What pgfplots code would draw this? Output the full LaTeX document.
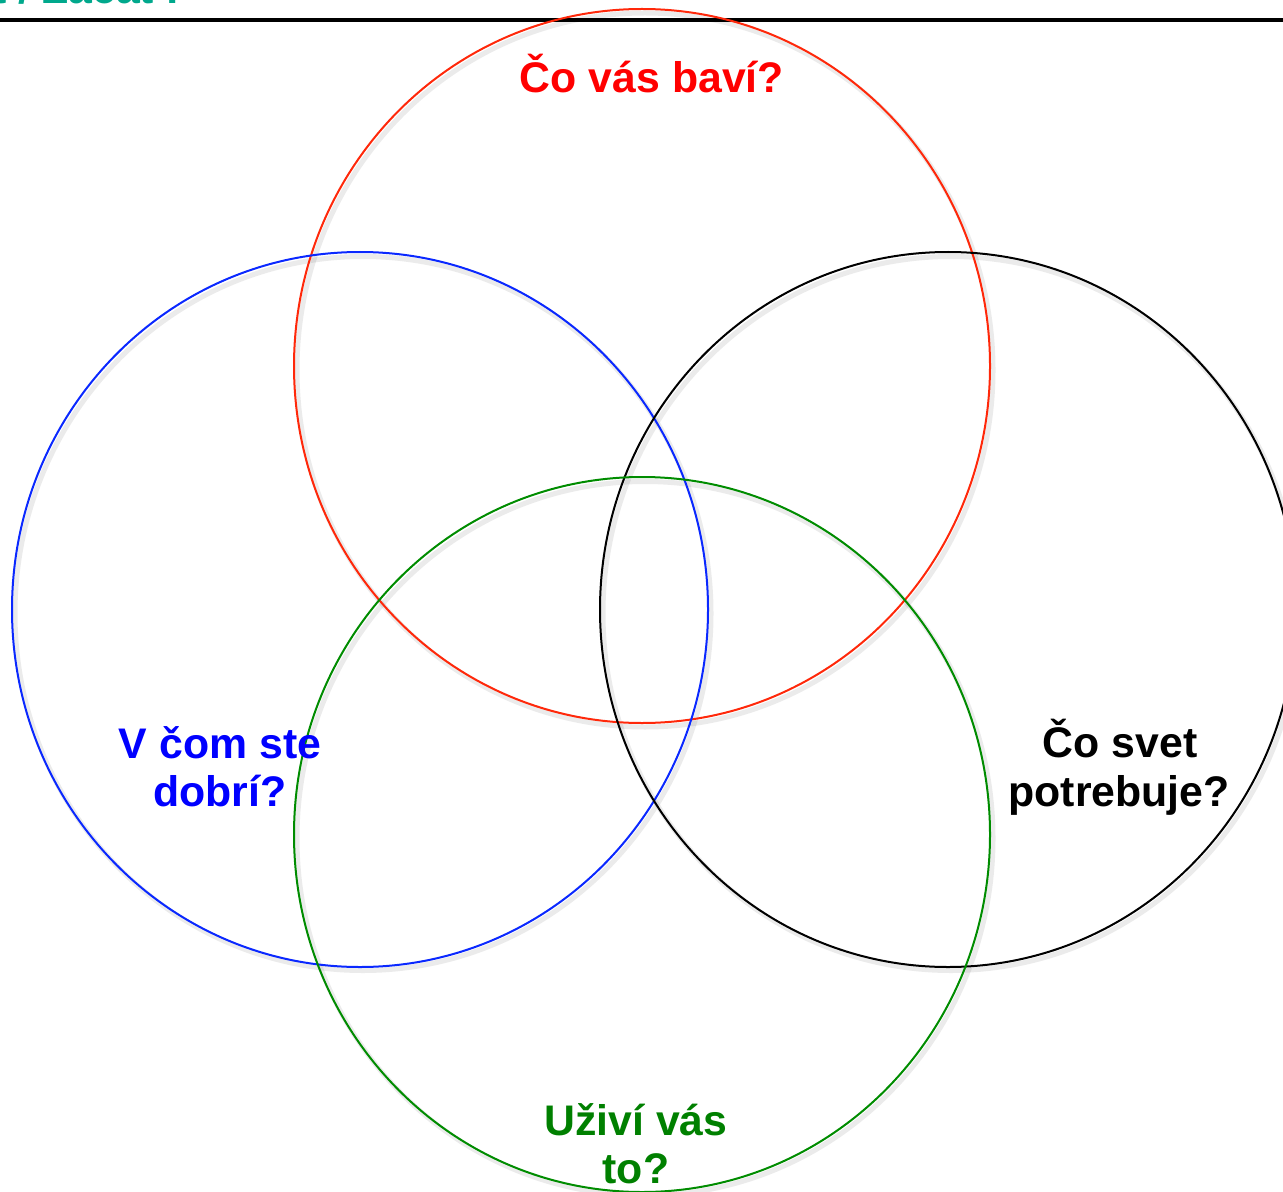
\documentclass[border=0pt]{standalone}
\usepackage{pgfplots}
\pgfplotsset{compat=1.18}
\usepackage{fontspec}
\setmainfont{Liberation Sans}
\definecolor{cred}{RGB}{255,40,10}
\definecolor{cblue}{RGB}{10,40,255}
\definecolor{cgreen}{RGB}{0,140,0}
\definecolor{tred}{RGB}{255,0,0}
\definecolor{tblue}{RGB}{0,0,255}
\definecolor{tgreen}{RGB}{0,128,0}
\definecolor{teal2}{RGB}{0,168,140}
\newcommand{\lab}{\fontsize{21.4pt}{25pt}\selectfont\bfseries}
\begin{document}
\begin{tikzpicture}
\begin{axis}[
  scale only axis,
  width=641.5pt, height=596pt,
  xmin=0, xmax=1283, ymin=0, ymax=1192,
  y dir=reverse,
  hide axis,
  clip=true,
]
% top rule
\addplot[black, line width=1.6pt] coordinates {(0,20) (1283,20)};
% shadows
\foreach \cx/\cy in {642/366, 360/609.5, 948/609.5, 642/834.5}{
  \edef\tmp{\noexpand\draw[black, opacity=0.08, line width=2.5pt] (axis cs:\cx+3,\cy+4) ellipse [x radius=348, y radius=357];}
  \tmp
}
% circles
\draw[cred, line width=1pt] (axis cs:642,366) ellipse [x radius=348, y radius=357];
\draw[cblue, line width=1pt] (axis cs:360,609.5) ellipse [x radius=348, y radius=357.5];
\draw[black, line width=1pt] (axis cs:948,609.5) ellipse [x radius=348, y radius=357.5];
\draw[cgreen, line width=1pt] (axis cs:642,834.5) ellipse [x radius=348, y radius=357.5];
% labels
\node[anchor=base, text=tred, inner sep=0pt] at (axis cs:652,93) {\lab Čo vás baví?};
\node[anchor=base, text=tblue, inner sep=0pt] at (axis cs:220,758) {\lab V čom ste};
\node[anchor=base, text=tblue, inner sep=0pt] at (axis cs:220,806) {\lab dobrí?};
\node[anchor=base, text=black, inner sep=0pt] at (axis cs:1120,757) {\lab Čo svet};
\node[anchor=base, text=black, inner sep=0pt] at (axis cs:1119,806) {\lab potrebuje?};
\node[anchor=base, text=tgreen, inner sep=0pt] at (axis cs:636,1135) {\lab Uživí vás};
\node[anchor=base, text=tgreen, inner sep=0pt] at (axis cs:636,1183) {\lab to?};
\node[anchor=base east, text=teal2, inner sep=0pt] at (axis cs:187,4) {\lab at / Začať?};
\end{axis}
\pgfresetboundingbox
\path[use as bounding box] (current axis.south west) rectangle (current axis.north east);
\end{tikzpicture}
\end{document}
